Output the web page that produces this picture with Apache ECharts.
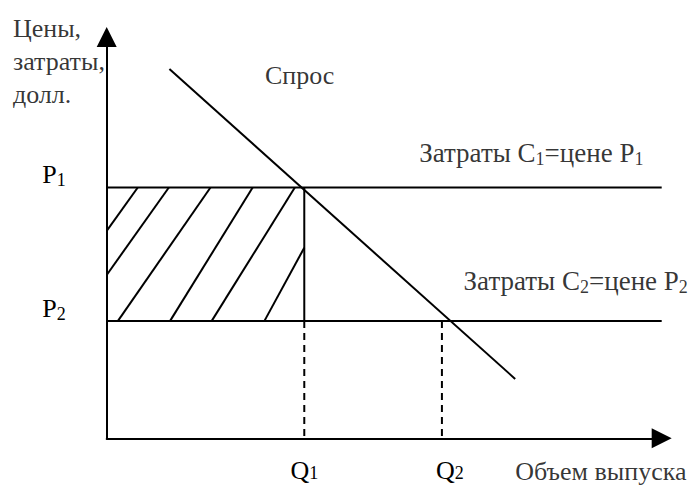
<!DOCTYPE html>
<html>
<head>
<meta charset="utf-8">
<script src="https://cdn.jsdelivr.net/npm/echarts@6/dist/echarts.min.js"></script>
<style>
  html, body { margin: 0; padding: 0; background: #fff; }
  #chart { width: 692px; height: 485px; }
</style>
</head>
<body>
<div id="chart"></div>
<script>
// уровни цен и объемы (в условных единицах осей 0..100)
const P1 = 62.5
const P2 = 29.2
const Q1 = 35.6
const Q2 = 60.4

// кривая спроса
const demandLine = [[11.3, 92.0], [73.6, 14.8]]

// линии затрат
const cost1Line = [[0, P1], [100, P1]]
const cost2Line = [[0, P2], [100, P2]]

// штриховка прямоугольника (верхний конец -> нижний конец)
const hatchFrom = [[5.6, P1], [11.2, P1], [18.7, P1], [26.3, P1], [33.9, P1], [Q1, 47.5]]
const hatchTo = [[0, 51.7], [0, 40.7], [2.0, P2], [11.4, P2], [18.9, P2], [28.4, P2]]

// подписи
const yTicks = [P2, P1]
const yTickLabels = ['P{s|2}', 'P{s|1}']
const xTicks = [Q1, Q2]
const xTickLabels = ['Q{s|1}', '{q2|Q}{s|2}']

const textLabels = [
  { name: 'Цены,\nзатраты,\nдолл.', value: [-16.9, 94.0], lineHeight: 33 },
  { name: 'Спрос', value: [28.5, 90.3] },
  { name: 'Затраты С{s|1}=цене Р{s|1}', value: [56.3, 71.0], fontSize: 27 },
  { name: 'Затраты С{s|2}=цене Р{s|2}', value: [64.3, 39.2], fontSize: 27 },
  { name: 'Объем выпуска', value: [73.6, -8.2] },
]

const FONT = '"Liberation Serif", "Times New Roman", serif'
const FS = 26
const richSub = {
  s: { fontSize: 18, lineHeight: 14, verticalAlign: 'bottom', fontFamily: FONT, color: '#000' },
  q2: { fontSize: FS, fontFamily: FONT, color: '#000', padding: [0, 0, 0, 16] },
}

function segment(data, opts = {}) {
  return {
    type: 'line',
    data,
    symbol: 'none',
    silent: true,
    animation: false,
    lineStyle: { color: '#000', width: 2, type: opts.dashed ? [7, 5] : 'solid' },
    z: 3,
  }
}

const chart = echarts.init(document.getElementById('chart'), null, { renderer: 'svg' })

const axisLineStyle = {
  show: true,
  symbol: ['none', 'triangle'],
  symbolSize: [20, 20],
  lineStyle: { color: '#000', width: 2 },
}

const series = [
  Object.assign(segment(demandLine), { name: 'Спрос' }),
  Object.assign(segment(cost1Line), { name: 'Затраты C1' }),
  Object.assign(segment(cost2Line), { name: 'Затраты C2' }),
  segment([[Q1, P1], [Q1, P2]]),
  segment([[Q1, P2], [Q1, 0]], { dashed: true }),
  segment([[Q2, P2], [Q2, 0]], { dashed: true }),
  ...hatchFrom.map((p, i) => segment([p, hatchTo[i]])),
  {
    type: 'scatter',
    symbolSize: 0,
    clip: false,
    silent: true,
    animation: false,
    data: textLabels.map(t => {
      const label = {}
      if (t.lineHeight) label.lineHeight = t.lineHeight
      if (t.fontSize) label.fontSize = t.fontSize
      return { name: t.name, value: t.value, label }
    }),
    label: {
      show: true,
      position: 'right',
      distance: 0,
      fontFamily: FONT,
      fontSize: FS,
      lineHeight: 30,
      color: '#000',
      formatter: p => p.name,
      rich: richSub,
    },
  },
]

chart.setOption({
  animation: false,
  textStyle: { fontFamily: FONT },
  grid: { left: 106.7, right: 30.3, top: 37, bottom: 46.7, containLabel: false, outerBoundsMode: 'none' },
  xAxis: {
    type: 'value',
    min: 0,
    max: 100,
    axisLine: axisLineStyle,
    axisTick: { show: false },
    splitLine: { show: false },
    axisLabel: {
      customValues: xTicks,
      margin: 20,
      fontFamily: FONT,
      fontSize: FS,
      lineHeight: 24,
      color: '#000',
      formatter: v => xTickLabels[xTicks.indexOf(v)],
      rich: richSub,
    },
  },
  yAxis: {
    type: 'value',
    min: 0,
    max: 100,
    axisLine: axisLineStyle,
    axisTick: { show: false },
    splitLine: { show: false },
    axisLabel: {
      customValues: yTicks,
      margin: 41,
      fontFamily: FONT,
      fontSize: FS,
      lineHeight: 30,
      color: '#000',
      padding: [0, 0, 26, 0],
      formatter: v => yTickLabels[yTicks.indexOf(v)],
      rich: richSub,
    },
  },
  series,
})
</script>
</body>
</html>
